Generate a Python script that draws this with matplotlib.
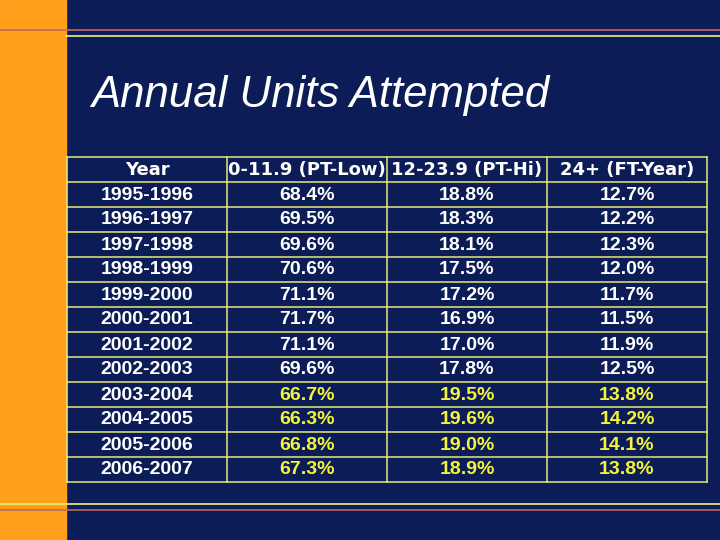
import matplotlib
matplotlib.use('Agg')
import matplotlib.pyplot as plt
from matplotlib.patches import Rectangle

# ── DATA ──────────────────────────────────────────────────────────────────────
TITLE = "Annual Units Attempted"
HEADERS = ["Year", "0-11.9 (PT-Low)", "12-23.9 (PT-Hi)", "24+ (FT-Year)"]
YEARS = ["1995-1996", "1996-1997", "1997-1998", "1998-1999", "1999-2000",
         "2000-2001", "2001-2002", "2002-2003", "2003-2004", "2004-2005",
         "2005-2006", "2006-2007"]
PT_LOW = [68.4, 69.5, 69.6, 70.6, 71.1, 71.7, 71.1, 69.6, 66.7, 66.3, 66.8, 67.3]
PT_HI = [18.8, 18.3, 18.1, 17.5, 17.2, 16.9, 17.0, 17.8, 19.5, 19.6, 19.0, 18.9]
FT_YEAR = [12.7, 12.2, 12.3, 12.0, 11.7, 11.5, 11.9, 12.5, 13.8, 14.2, 14.1, 13.8]
HIGHLIGHT_FROM = "2003-2004"   # rows from here on shown in yellow

# ── STYLE ─────────────────────────────────────────────────────────────────────
NAVY = "#0b1c56"
ORANGE = "#ff9f1c"
GRID = "#e6e87a"
YELLOW = "#f4f43c"
RED_LINE = "#c06a5a"
LINE_YEL = "#f2f07a"
FONT = "Liberation Sans"

fig = plt.figure(figsize=(7.2, 5.4), dpi=100, facecolor=NAVY)
ax = fig.add_axes([0, 0, 1, 1])
ax.set_xlim(0, 720)
ax.set_ylim(540, 0)
ax.axis("off")

# slide decoration
ax.add_patch(Rectangle((0, 0), 66, 540, color=ORANGE, zorder=1))
ax.plot([0, 720], [30, 30], color=RED_LINE, lw=1.2, zorder=2)
ax.plot([66, 720], [36, 36], color=LINE_YEL, lw=1.2, zorder=2)
ax.plot([0, 720], [504, 504], color=LINE_YEL, lw=1.2, zorder=2)
ax.plot([0, 720], [510, 510], color=RED_LINE, lw=1.2, zorder=2)

ax.text(91, 95, TITLE, color="white", fontsize=31.5, style="italic",
        family=FONT, va="center", ha="left")

# ── TABLE ─────────────────────────────────────────────────────────────────────
left, top, col_w, row_h = 67, 156.5, 160, 25.0
n_rows = len(YEARS) + 1
n_cols = len(HEADERS)
right = left + n_cols * col_w
bottom = top + n_rows * row_h

for i in range(n_rows + 1):
    y = top + i * row_h
    ax.plot([left, right], [y, y], color=GRID, lw=1.1, zorder=3)
for j in range(n_cols + 1):
    x = left + j * col_w
    ax.plot([x, x], [top, bottom], color=GRID, lw=1.1, zorder=3)


def cell_text(row, col, s, color, family=FONT, size=14):
    x = left + (col + 0.5) * col_w
    y = top + (row + 0.5) * row_h
    ax.text(x, y + 1, s, color=color, fontsize=size, fontweight="bold",
            family=family, ha="center", va="center", zorder=4)


for j, h in enumerate(HEADERS):
    cell_text(0, j, h, "white", family="DejaVu Sans", size=13)

hl_start = YEARS.index(HIGHLIGHT_FROM)
for i, yr in enumerate(YEARS):
    cell_text(i + 1, 0, yr, "white")
    c = YELLOW if i >= hl_start else "white"
    for j, series in enumerate([PT_LOW, PT_HI, FT_YEAR]):
        cell_text(i + 1, j + 1, f"{series[i]:.1f}%", c)

fig.savefig("out.png", dpi=100, facecolor=NAVY)
